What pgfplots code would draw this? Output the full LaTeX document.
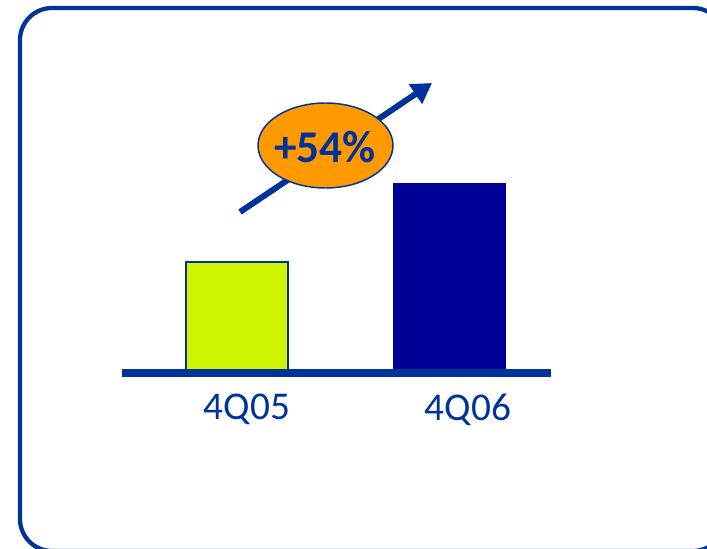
\documentclass[border=0pt]{standalone}
\usepackage{pgfplots}
\pgfplotsset{compat=1.18}
\usepackage{fontspec}
\setmainfont{Carlito}
\usetikzlibrary{arrows.meta}
\definecolor{frameblue}{RGB}{0,51,153}
\definecolor{limebar}{RGB}{208,245,0}
\definecolor{navybar}{RGB}{0,0,150}
\definecolor{orangeov}{RGB}{255,153,0}
\begin{document}
\begin{tikzpicture}[x=0.75pt,y=-0.75pt]
\useasboundingbox (0,0) rectangle (707,549);
\clip (0,0) rectangle (707,549);
% frame
\draw[frameblue, line width=3.2pt, rounded corners=24pt] (20,8) rectangle (725,551);
\begin{axis}[
  at={(177.75pt,-279pt)}, anchor=origin,
  scale only axis, width=321.75pt, height=150pt,
  xmin=-0.5425, xmax=1.481, ymin=0, ymax=200,
  clip=false,
  axis line style={draw=none},
  ytick=\empty,
  xtick={0.047,1.09},
  xticklabels={4Q05,4Q06},
  major tick length=0pt,
  /pgf/number format/assume math mode=true,
  xticklabel style={font=\fontsize{29.5}{32}\selectfont, text=frameblue, yshift=-13pt},
  ybar, bar shift=0pt,
]
\addplot[fill=limebar, draw=frameblue, line width=1pt, bar width=0.481] coordinates {(0,110)};
\addplot[fill=navybar, draw=navybar, bar width=0.528] coordinates {(1,189)};
\draw[frameblue, line width=6pt] (axis cs:-0.5425,-1) -- (axis cs:1.481,-1);
\end{axis}
% growth arrow and badge
\draw[frameblue, line width=4.5pt, -{Triangle[length=15pt,width=17pt]}] (240,212) -- (432,83);
\draw[fill=orangeov, draw=frameblue, line width=1.1pt] (325.5,145.5) ellipse [x radius=67.5, y radius=42.5];
\node[text=frameblue, font=\bfseries\fontsize{34}{36}\selectfont] at (325,147) {+54\%};
\end{tikzpicture}
\end{document}
